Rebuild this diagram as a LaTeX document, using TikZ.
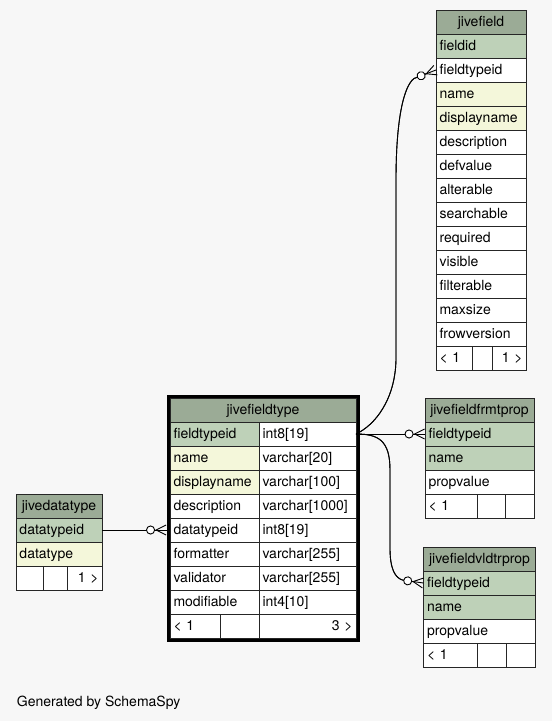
\documentclass[tikz,border=0pt]{standalone}
\usepackage{fontspec}
\setmainfont{TeX Gyre Heros}
\usetikzlibrary{arrows.meta,fit}
\definecolor{hdrgreen}{HTML}{9BAB96}
\definecolor{pkgreen}{HTML}{BED1B8}
\definecolor{idxyellow}{HTML}{F4F7DA}
\definecolor{bggray}{HTML}{F7F7F7}
\tikzset{
  cell/.style={draw=black!85, line width=1pt, fill=white, anchor=north west,
    outer sep=0pt, inner xsep=3.5pt, inner ysep=0pt, minimum height=24pt,
    text width=#1-7pt, text height=11pt, text depth=3pt, align=left,
    font=\fontsize{14pt}{16pt}\selectfont},
  hd/.style={cell=#1, fill=hdrgreen, align=center},
  fk/.style={line width=0.9pt, postaction={draw,
    -{Circle[fill=white,length=9pt] Straight Barb[reversed,length=10pt,width=10pt]}}}
}
\begin{document}
\begin{tikzpicture}[x=1pt,y=-1pt]
\fill[bggray] (0,0) rectangle (552,721);
\useasboundingbox (0,0) rectangle (552,721);

\node[hd=90pt] (jf) at (436,10) {jivefield};
\foreach \fld/\clr [count=\i] in {fieldid/pkgreen, fieldtypeid/white,
    name/idxyellow, displayname/idxyellow, description/white, defvalue/white,
    alterable/white, searchable/white, required/white, visible/white,
    filterable/white, maxsize/white, frowversion/white}
  \node[cell=90pt, fill=\clr] (jf-\fld) at (436,{10+24*\i}) {\fld};
\node[cell=36pt] (jf-f1) at (436,346) {< 1};
\node[cell=20pt] (jf-f2) at (472,346) {};
\node[cell=34pt, align=right] (jf-f3) at (492,346) {1 >};

\node[hd=186pt] (ft) at (170,398) {jivefieldtype};
\foreach \fld/\ty/\clr [count=\i] in {fieldtypeid/int8[19]/pkgreen,
    name/varchar[20]/idxyellow, displayname/varchar[100]/idxyellow,
    description/varchar[1000]/white, datatypeid/int8[19]/white,
    formatter/varchar[255]/white, validator/varchar[255]/white,
    modifiable/int4[10]/white} {
  \node[cell=89pt, fill=\clr] (ft-\fld) at (170,{398+24*\i}) {\fld};
  \node[cell=97pt] (ft-\fld-type) at (259,{398+24*\i}) {\ty};
}
\node[cell=50pt] (ft-f1) at (170,614) {< 1};
\node[cell=39pt] (ft-f2) at (220,614) {};
\node[cell=97pt, align=right] (ft-f3) at (259,614) {3 >};
\node[fit=(ft)(ft-f3), draw=black, line width=3pt, inner sep=2pt] (ft-frame) {};

\node[hd=86pt] (jd) at (16,494) {jivedatatype};
\node[cell=86pt, fill=pkgreen] (jd-datatypeid) at (16,518) {datatypeid};
\node[cell=86pt, fill=idxyellow] (jd-datatype) at (16,542) {datatype};
\node[cell=27pt] (jd-f1) at (16,566) {};
\node[cell=24pt] (jd-f2) at (43,566) {};
\node[cell=35pt, align=right] (jd-f3) at (67,566) {1 >};

\node[hd=109pt] (ff) at (425,398) {jivefieldfrmtprop};
\node[cell=109pt, fill=pkgreen] (ff-fieldtypeid) at (425,422) {fieldtypeid};
\node[cell=109pt, fill=pkgreen] (ff-name) at (425,446) {name};
\node[cell=109pt] (ff-propvalue) at (425,470) {propvalue};
\node[cell=52pt] (ff-f1) at (425,494) {< 1};
\node[cell=28pt] (ff-f2) at (477,494) {};
\node[cell=29pt] (ff-f3) at (505,494) {};

\node[hd=112pt] (fv) at (423.5,547) {jivefieldvldtrprop};
\node[cell=112pt, fill=pkgreen] (fv-fieldtypeid) at (423.5,571) {fieldtypeid};
\node[cell=112pt, fill=pkgreen] (fv-name) at (423.5,595) {name};
\node[cell=112pt] (fv-propvalue) at (423.5,619) {propvalue};
\node[cell=53.5pt] (fv-f1) at (423.5,643) {< 1};
\node[cell=29pt] (fv-f2) at (477,643) {};
\node[cell=29.5pt] (fv-f3) at (506,643) {};

\draw[fk] (ft-fieldtypeid-type.east) .. controls (375,425) and (395,400) .. (396,360)
  -- (396,180) .. controls (396,118) and (404,86) .. (414,78.5)
  -- (jf-fieldtypeid.west);
\draw[fk] (ft-fieldtypeid-type.east) -- (ff-fieldtypeid.west);
\draw[fk] (ft-fieldtypeid-type.east) .. controls (378,434) and (390,440) .. (390,470)
  -- (390,548) .. controls (390,569) and (395,578) .. (403,580.2)
  -- (fv-fieldtypeid.west);
\draw[fk] (jd-datatypeid.east) -- (ft-datatypeid.west -| ft-frame.west);

\node[anchor=base west, inner sep=0pt, font=\fontsize{14pt}{16pt}\selectfont]
  (credit) at (16.7,706.5) {Generated by SchemaSpy};
\end{tikzpicture}
\end{document}
